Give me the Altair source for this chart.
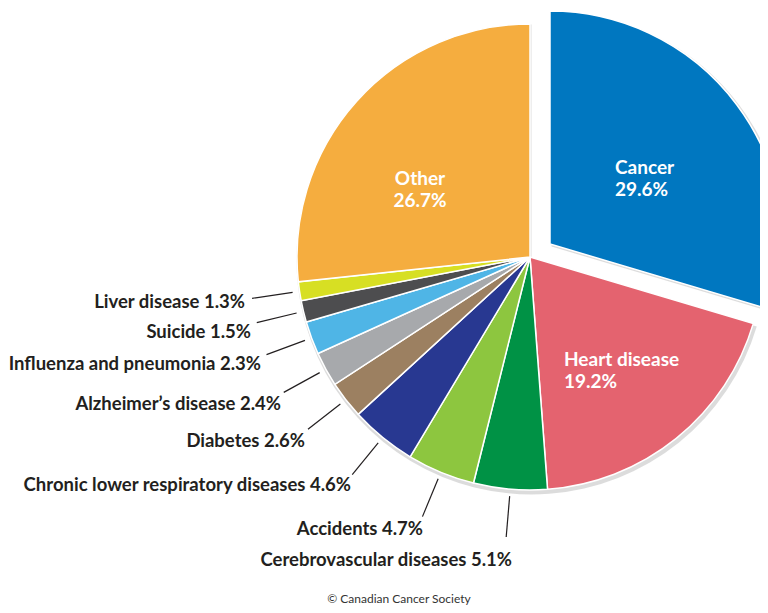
import altair as alt
import pandas as pd
import numpy as np

# ---- data ----
causes = ["Cancer", "Heart disease", "Cerebrovascular diseases", "Accidents",
          "Chronic lower respiratory diseases", "Diabetes", "Alzheimer’s disease",
          "Influenza and pneumonia", "Suicide", "Liver disease", "Other"]
shares = [29.6, 19.2, 5.1, 4.7, 4.6, 2.6, 2.4, 2.3, 1.5, 1.3, 26.7]
colors = ["#0077C0", "#E4636F", "#009245", "#8DC63F", "#283891", "#9C8061",
          "#A7A9AC", "#4FB5E6", "#4D4D4F", "#D7DF23", "#F5AD3F"]

inside_causes = ["Cancer", "Heart disease", "Other"]
outside_causes = ["Liver disease", "Suicide", "Influenza and pneumonia",
                  "Alzheimer’s disease", "Diabetes",
                  "Chronic lower respiratory diseases", "Accidents",
                  "Cerebrovascular diseases"]

# ---- layout (pixels, chart coordinates) ----
CX, CY, R = 520, 247, 233
EXPLODE = (20, -13)
LINE_R1, LINE_R2 = 240, 281
# right edge / vertical centre of outside labels
out_label_x = [235, 241, 251, 271, 295, 341, 413, 502]
out_label_y = [292, 322, 354, 394, 431, 475, 519, 550]
# inside labels: anchor x, first-line centre y, alignment
in_label_x = [605, 554, 410]
in_label_y = [158, 350, 169]
in_label_align = ["left", "left", "center"]

df = pd.DataFrame({"cause": causes, "share": shares})
df["end"] = df["share"].cumsum()
df["start"] = df["end"] - df["share"]
df["mid"] = (df["start"] + df["end"]) / 2
df["label"] = df["cause"] + " " + df["share"].map(lambda v: f"{v:.1f}%")
df["label2"] = df["cause"] + "\n" + df["share"].map(lambda v: f"{v:.1f}%")

ang = df["mid"] / 100 * 2 * np.pi
df["lx1"] = CX + LINE_R1 * np.sin(ang)
df["ly1"] = CY - LINE_R1 * np.cos(ang)
df["lx2"] = CX + LINE_R2 * np.sin(ang)
df["ly2"] = CY - LINE_R2 * np.cos(ang)

out_df = df[df["cause"].isin(outside_causes)].set_index("cause").loc[outside_causes].reset_index()
out_df["tx"] = out_label_x
out_df["ty"] = out_label_y

in_df = df[df["cause"].isin(inside_causes)].set_index("cause").loc[inside_causes].reset_index()
in_df["tx"] = in_label_x
in_df["ty"] = in_label_y
in_df["align"] = in_label_align

tscale = alt.Scale(domain=[0, 100], range=[0, 2 * np.pi])
cscale = alt.Scale(domain=causes, range=colors)

base = alt.Chart(df)


def arcs(filter_expr, cx, cy, shadow=False):
    if shadow:
        m = base.mark_arc(radius=R + 2, color="#9a9a9a", opacity=0.35)
        enc = dict(theta=alt.Theta("start:Q", scale=tscale), theta2="end:Q",
                   x=alt.value(cx + 1.5), y=alt.value(cy + 2.5))
    else:
        m = base.mark_arc(radius=R, stroke="white", strokeWidth=1.5)
        enc = dict(theta=alt.Theta("start:Q", scale=tscale), theta2="end:Q",
                   color=alt.Color("cause:N", scale=cscale, legend=None),
                   x=alt.value(cx), y=alt.value(cy))
    return m.transform_filter(filter_expr).encode(**enc)


rest_shadow = arcs("datum.cause != 'Cancer'", CX, CY, shadow=True)
cancer_shadow = arcs("datum.cause == 'Cancer'", CX + EXPLODE[0], CY + EXPLODE[1], shadow=True)
rest = arcs("datum.cause != 'Cancer'", CX, CY)
cancer = arcs("datum.cause == 'Cancer'", CX + EXPLODE[0], CY + EXPLODE[1])

lines = alt.Chart(out_df).mark_rule(color="#231F20", strokeWidth=1.2).encode(
    x=alt.X("lx1:Q", scale=None), y=alt.Y("ly1:Q", scale=None),
    x2="lx2:Q", y2="ly2:Q")

out_text = alt.Chart(out_df).mark_text(
    align="right", baseline="middle", font="Lato", fontWeight="bold",
    fontSize=18.5, color="#231F20").encode(
    x=alt.X("tx:Q", scale=None), y=alt.Y("ty:Q", scale=None), text="label:N")

in_layers = []
for al in ["left", "center"]:
    in_layers.append(alt.Chart(in_df[in_df["align"] == al]).mark_text(
        align=al, baseline="middle", font="Lato", fontWeight="bold",
        fontSize=19, color="white", lineBreak="\n", lineHeight=22).encode(
        x=alt.X("tx:Q", scale=None), y=alt.Y("ty:Q", scale=None), text="label2:N"))

credit = alt.Chart(pd.DataFrame({"t": ["© Canadian Cancer Society"]})).mark_text(
    font="Lato", fontSize=12, color="#333333", align="center", baseline="bottom").encode(
    x=alt.value(389), y=alt.value(596), text="t:N")

chart = alt.layer(rest_shadow, cancer_shadow, rest, cancer, lines, out_text,
                  *in_layers, credit).properties(
    width=752, height=597, padding=0,
    autosize=alt.AutoSizeParams(type="fit", contains="padding"),
).configure_view(stroke=None)

chart.save("out.html", embed_options={"renderer": "svg", "actions": False})
